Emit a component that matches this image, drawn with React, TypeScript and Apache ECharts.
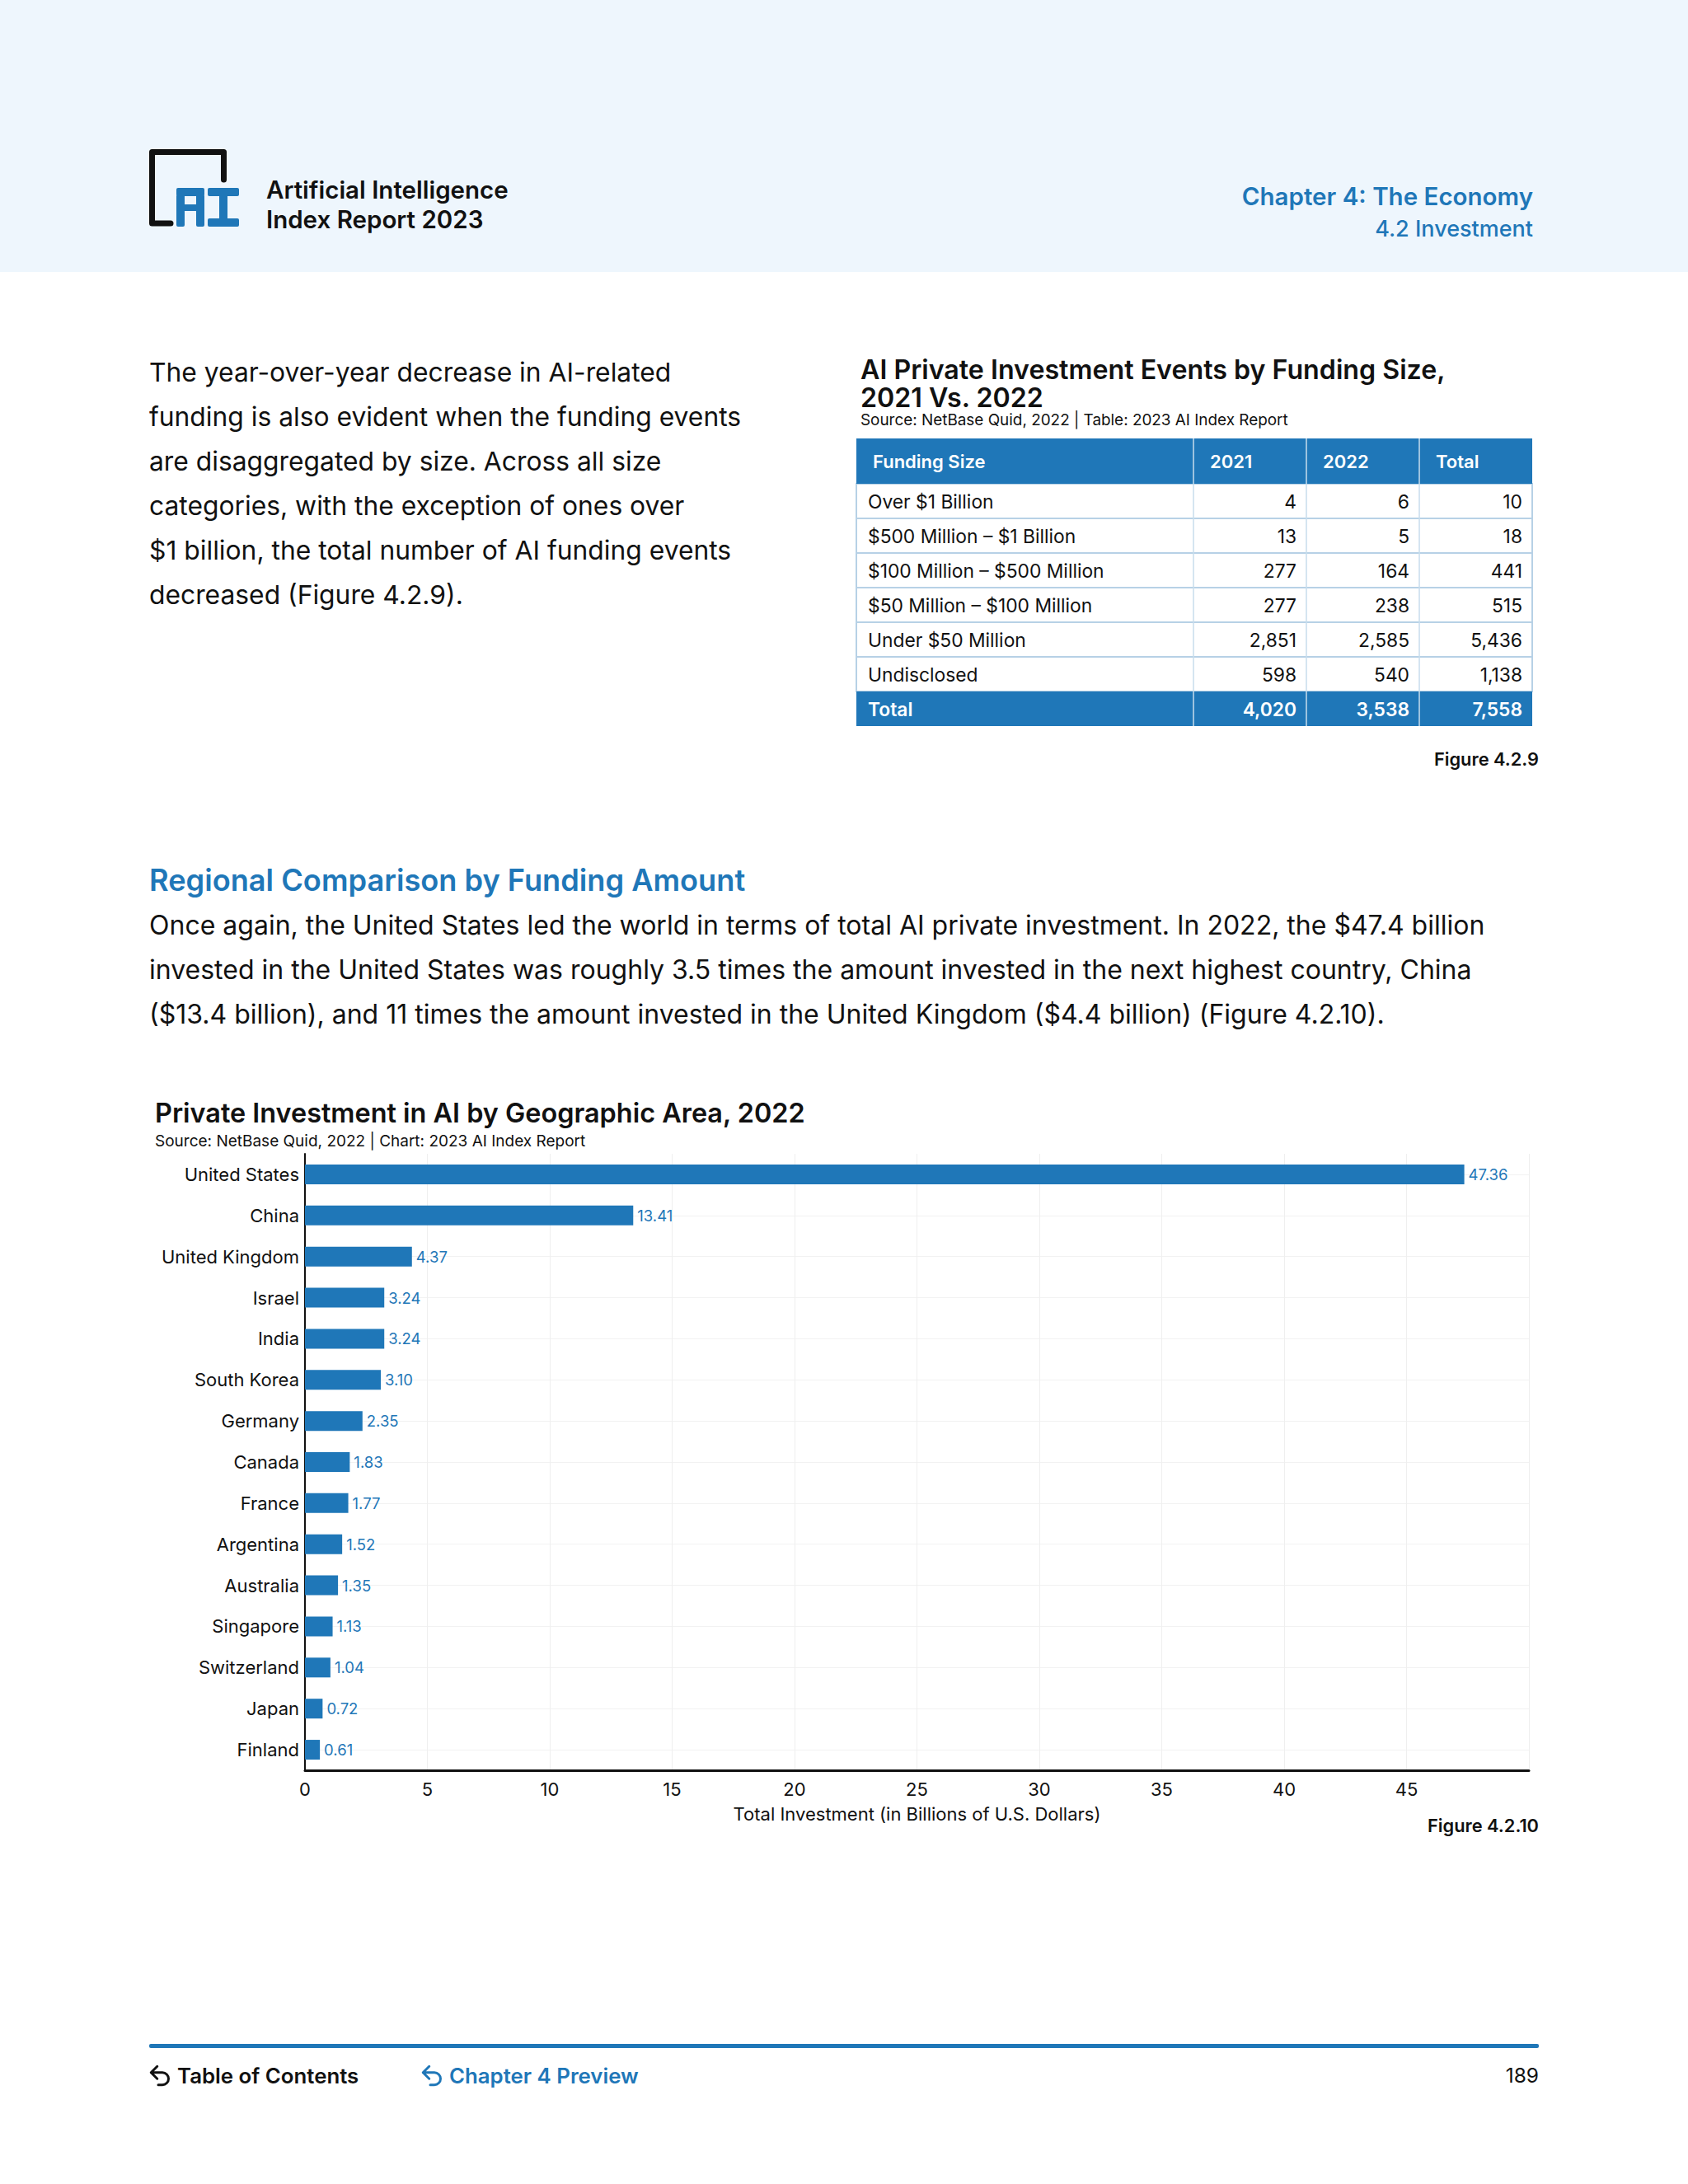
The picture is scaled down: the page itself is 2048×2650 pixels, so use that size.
import React, { useEffect, useRef } from "react";
import * as echarts from "echarts";

// ---------- Data ----------
const countries = [
  "United States", "China", "United Kingdom", "Israel", "India", "South Korea",
  "Germany", "Canada", "France", "Argentina", "Australia", "Singapore",
  "Switzerland", "Japan", "Finland",
];
const investment = [47.36, 13.41, 4.37, 3.24, 3.24, 3.1, 2.35, 1.83, 1.77, 1.52, 1.35, 1.13, 1.04, 0.72, 0.61];
const xTicks = { min: 0, max: 50, interval: 5 };

const tableHeaders = ["Funding Size", "2021", "2022", "Total"];
const fundingSizes = [
  "Over $1 Billion",
  "$500 Million – $1 Billion",
  "$100 Million – $500 Million",
  "$50 Million – $100 Million",
  "Under $50 Million",
  "Undisclosed",
];
const events2021 = [4, 13, 277, 277, 2851, 598];
const events2022 = [6, 5, 164, 238, 2585, 540];
const eventsTotal = [10, 18, 441, 515, 5436, 1138];
const totalRowLabel = "Total";
const totalRow = [4020, 3538, 7558];

const para1 = [
  "The year-over-year decrease in AI-related",
  "funding is also evident when the funding events",
  "are disaggregated by size. Across all size",
  "categories, with the exception of ones over",
  "$1 billion, the total number of AI funding events",
  "decreased (Figure 4.2.9).",
];
const para2 = [
  "Once again, the United States led the world in terms of total AI private investment. In 2022, the $47.4 billion",
  "invested in the United States was roughly 3.5 times the amount invested in the next highest country, China",
  "($13.4 billion), and 11 times the amount invested in the United Kingdom ($4.4 billion) (Figure 4.2.10).",
];

const BLUE = "#1f77b8";
const FONT = "Inter, 'Noto Sans', sans-serif";

echarts.graphic.registerShape(
  "hookArrow",
  echarts.graphic.extendPath("M7 1 L1 7 L7 13 M1 7 L12 7 A6 6 0 0 1 12 19 L8 19", {})
);

function txt(text: string, x: number, y: number, size: number, opts: any = {}) {
  const weight = opts.weight || "normal";
  return {
    type: "text",
    silent: true,
    z: 10,
    style: {
      text,
      x,
      y,
      font: `${weight} ${size}px ${FONT}`,
      fill: opts.fill || "#111111",
      align: opts.align || "left",
      textAlign: opts.align || "left",
      verticalAlign: "middle",
      textVerticalAlign: "middle",
    },
  };
}

function buildGraphics() {
  const g: any[] = [];
  // header band
  g.push({ type: "rect", z: 0, shape: { x: 0, y: 0, width: 2048, height: 330 }, style: { fill: "#eef6fd" } });
  // logo
  g.push({
    type: "polyline",
    z: 5,
    shape: { points: [[207, 271], [184.5, 271], [184.5, 184.5], [271.5, 184.5], [271.5, 218]] },
    style: { stroke: "#111111", lineWidth: 7, lineJoin: "round", lineCap: "round", fill: "none" },
  });
  const logoRects = [
    [214, 236, 10, 39], [238, 236, 10, 39], [214, 228, 34, 10], [214, 248, 34, 8],
    [252, 228, 38, 10], [266, 228, 10, 47], [252, 265, 38, 10],
  ];
  logoRects.forEach((r) =>
    g.push({ type: "rect", z: 5, shape: { x: r[0], y: r[1], width: r[2], height: r[3], r: 2 }, style: { fill: BLUE } })
  );
  g.push(txt("Artificial Intelligence", 323, 230, 29.5, { weight: "600" }));
  g.push(txt("Index Report 2023", 323, 266, 29.5, { weight: "600" }));
  g.push(txt("Chapter 4: The Economy", 1860, 238, 29.5, { weight: "600", fill: BLUE, align: "right" }));
  g.push(txt("4.2 Investment", 1860, 277, 27, { weight: "500", fill: BLUE, align: "right" }));

  // left paragraph
  para1.forEach((l, i) => g.push(txt(l, 181, 451 + i * 54, 31.8)));

  // table title
  g.push(txt("AI Private Investment Events by Funding Size,", 1044, 448, 32.2, { weight: "600" }));
  g.push(txt("2021 Vs. 2022", 1044, 482, 32.2, { weight: "600" }));
  g.push(txt("Source: NetBase Quid, 2022 | Table: 2023 AI Index Report", 1044, 509, 18.9));

  // table
  const colX = [1039, 1448, 1585, 1722, 1859];
  const headTop = 532, headH = 55, rowH = 42;
  const bodyTop = headTop + headH;
  const totalTop = bodyTop + fundingSizes.length * rowH;
  g.push({ type: "rect", z: 2, shape: { x: colX[0], y: headTop, width: colX[4] - colX[0], height: headH }, style: { fill: BLUE } });
  g.push({ type: "rect", z: 2, shape: { x: colX[0], y: totalTop, width: colX[4] - colX[0], height: rowH }, style: { fill: BLUE } });
  g.push({ type: "rect", z: 1, shape: { x: colX[0], y: bodyTop, width: colX[4] - colX[0], height: fundingSizes.length * rowH }, style: { fill: "#ffffff", stroke: "#b7d1e6", lineWidth: 2 } });
  for (let i = 1; i < fundingSizes.length; i++) {
    g.push({ type: "line", z: 3, shape: { x1: colX[0], y1: bodyTop + i * rowH, x2: colX[4], y2: bodyTop + i * rowH }, style: { stroke: "#b7d1e6", lineWidth: 2 } });
  }
  for (let c = 1; c < 4; c++) {
    g.push({ type: "line", z: 3, shape: { x1: colX[c], y1: headTop, x2: colX[c], y2: totalTop + rowH }, style: { stroke: "#c7dcec", lineWidth: 1.5 } });
  }
  tableHeaders.forEach((h, c) =>
    g.push(txt(h, colX[c] + 20, headTop + headH / 2, 22, { weight: "600", fill: "#ffffff" }))
  );
  fundingSizes.forEach((f, r) => {
    const cy = bodyTop + r * rowH + rowH / 2;
    g.push(txt(f, colX[0] + 14, cy, 22.8));
    [events2021[r], events2022[r], eventsTotal[r]].forEach((v, c) =>
      g.push(txt(v.toLocaleString("en-US"), colX[c + 2] - 12, cy, 22.8, { align: "right" }))
    );
  });
  const tcy = totalTop + rowH / 2;
  g.push(txt(totalRowLabel, colX[0] + 14, tcy, 22.8, { weight: "600", fill: "#ffffff" }));
  totalRow.forEach((v, c) =>
    g.push(txt(v.toLocaleString("en-US"), colX[c + 2] - 12, tcy, 22.8, { weight: "600", fill: "#ffffff", align: "right" }))
  );
  g.push(txt("Figure 4.2.9", 1867, 921, 21.8, { weight: "600", align: "right" }));

  // section
  g.push(txt("Regional Comparison by Funding Amount", 181, 1068, 36.2, { weight: "600", fill: BLUE }));
  para2.forEach((l, i) => g.push(txt(l, 181, 1122 + i * 54, 32)));

  // chart title
  g.push(txt("Private Investment in AI by Geographic Area, 2022", 188, 1350, 32.4, { weight: "600" }));
  g.push(txt("Source: NetBase Quid, 2022 | Chart: 2023 AI Index Report", 188, 1384, 19));
  g.push(txt("Figure 4.2.10", 1867, 2215, 21.8, { weight: "600", align: "right" }));

  // footer
  g.push({ type: "rect", z: 2, shape: { x: 181, y: 2480, width: 1686, height: 5, r: 2 }, style: { fill: BLUE } });
  g.push({ type: "hookArrow", z: 5, x: 182, y: 2506, scaleX: 1.25, scaleY: 1.25, style: { stroke: "#111111", lineWidth: 2.4, fill: "none", lineCap: "round", lineJoin: "round" } });
  g.push(txt("Table of Contents", 215, 2518, 25.8, { weight: "600" }));
  g.push({ type: "hookArrow", z: 5, x: 512, y: 2506, scaleX: 1.25, scaleY: 1.25, style: { stroke: BLUE, lineWidth: 2.4, fill: "none", lineCap: "round", lineJoin: "round" } });
  g.push(txt("Chapter 4 Preview", 545, 2518, 25.8, { weight: "600", fill: BLUE }));
  g.push(txt("189", 1867, 2518, 24.5, { align: "right" }));
  return g;
}

export default function App() {
  const ref = useRef<HTMLDivElement>(null);
  useEffect(() => {
    document.body.style.margin = "0";
    if (!ref.current) return;
    const chart = echarts.init(ref.current, undefined, { renderer: "svg" });
    chart.setOption({
      animation: false,
      backgroundColor: "#ffffff",
      textStyle: { fontFamily: FONT },
      grid: { left: 370, right: 193, top: 1400, bottom: 502, containLabel: false },
      xAxis: {
        type: "value",
        min: xTicks.min,
        max: xTicks.max,
        interval: xTicks.interval,
        name: "Total Investment (in Billions of U.S. Dollars)",
        nameLocation: "middle",
        nameGap: 42,
        nameTextStyle: { fontSize: 22, color: "#111111", fontFamily: FONT },
        axisLine: { show: true, lineStyle: { color: "#111111", width: 3 } },
        axisTick: { show: false },
        axisLabel: { fontSize: 22, color: "#111111", margin: 12, showMaxLabel: false, fontFamily: FONT },
        splitLine: { show: true, lineStyle: { color: "#efefef", width: 1 } },
      },
      yAxis: {
        type: "category",
        data: countries,
        inverse: true,
        axisLine: { show: true, lineStyle: { color: "#111111", width: 2 } },
        axisTick: { show: false, alignWithLabel: true },
        axisLabel: { fontSize: 22, color: "#111111", margin: 7, fontFamily: FONT },
        splitLine: { show: true, alignWithLabel: true, lineStyle: { color: "#f2f2f2", width: 1 } },
      },
      series: [
        {
          type: "bar",
          data: investment,
          barWidth: 24,
          itemStyle: { color: BLUE },
          label: {
            show: true,
            position: "right",
            distance: 5,
            fontSize: 18.5,
            color: BLUE,
            fontFamily: FONT,
            formatter: (p: any) => Number(p.value).toFixed(2),
          },
        },
      ],
      graphic: buildGraphics(),
    });
    return () => chart.dispose();
  }, []);
  return <div ref={ref} style={{ width: 2048, height: 2650 }} />;
}
